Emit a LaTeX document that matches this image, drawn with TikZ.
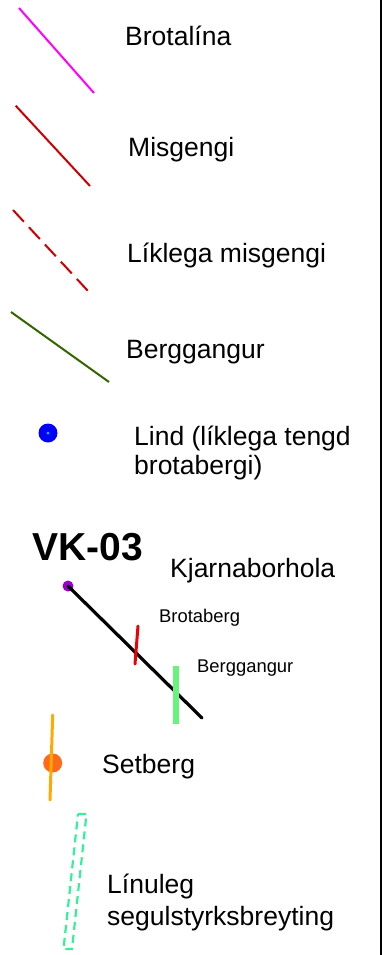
\documentclass[tikz,border=0pt]{standalone}
\usepackage{fontspec}
\setmainfont{Liberation Sans}
\definecolor{magentaL}{HTML}{FF00FF}
\definecolor{darkredL}{HTML}{CC0000}
\definecolor{dkgreenL}{HTML}{336600}
\definecolor{blueL}{HTML}{0000FF}
\definecolor{cyanL}{HTML}{00CCFF}
\definecolor{purpleL}{HTML}{9900CC}
\definecolor{redL}{HTML}{EE0000}
\definecolor{ltgreenL}{HTML}{66F57A}
\definecolor{orangeL}{HTML}{FFAA00}
\definecolor{orangeDot}{HTML}{FF6A1A}
\definecolor{springL}{HTML}{33F099}
\begin{document}
\begin{tikzpicture}[x=1pt,y=-1pt,
  lbl/.style={anchor=base west, inner sep=0pt, font=\fontsize{26.5}{30}\selectfont},
  smalllbl/.style={anchor=base west, inner sep=0pt, font=\fontsize{18.4}{22}\selectfont},
  title/.style={anchor=base west, inner sep=0pt, font=\fontsize{39}{44}\selectfont\bfseries},
  legline/.style={line width=2pt}]
\useasboundingbox (0,0) rectangle (382,955);
\draw[line width=2pt] (380.5,0) -- (380.5,955);
% Brotalina
\draw[legline, magentaL] (19,8) -- (94,93);
\node[lbl] (t1) at (125,46) {Brotalína};
% Misgengi
\draw[legline, darkredL] (15.7,105.7) -- (90,186);
\node[lbl] (t2) at (128,157) {Misgengi};
% Liklega misgengi
\draw[legline, darkredL, dash pattern=on 16pt off 7.5pt] (13,210) -- (88,291);
\node[lbl] (t3) at (127,262) {Líklega misgengi};
% Berggangur
\draw[legline, dkgreenL] (11,312) -- (109,382);
\node[lbl] (t4) at (126,358) {Berggangur};
% Lind
\fill[blueL] (48,433) circle (9.5);
\fill[cyanL] (48,433) circle (1.5);
\node[lbl] (t5) at (134,445) {Lind (líklega tengd};
\node[lbl] (t5b) at (134,474) {brotabergi)};
% VK-03
\node[title] (vk) at (32,560) {VK-03};
\node[lbl] (t6) at (170,577) {Kjarnaborhola};
\draw[line width=3.2pt, line cap=round] (68,586) -- (202,718);
\fill[purpleL] (68,586) circle (5.5);
\draw[line width=3.2pt, line cap=round] (68,586) -- (72,590);
\draw[line width=3pt, redL, line cap=round] (138,626) -- (135,664);
\node[smalllbl] (t7) at (159,622) {Brotaberg};
\draw[line width=6pt, ltgreenL] (176,666) -- (176,724);
\node[smalllbl] (t8) at (197,672) {Berggangur};
% Setberg
\fill[orangeDot] (52.7,763) circle (9.5);
\draw[line width=3pt, orangeL, line cap=round] (52.7,715) -- (50,800);
\node[lbl] (t9) at (102,773) {Setberg};
% Linuleg
\draw[line width=2.2pt, springL, dash pattern=on 8pt off 5pt] (78,814) -- (86.5,814) -- (72,949) -- (63.5,949) -- cycle;
\node[lbl] (t10) at (107,893) {Línuleg};
\node[lbl] (t10b) at (107,925) {segulstyrksbreyting};
\end{tikzpicture}
\end{document}
